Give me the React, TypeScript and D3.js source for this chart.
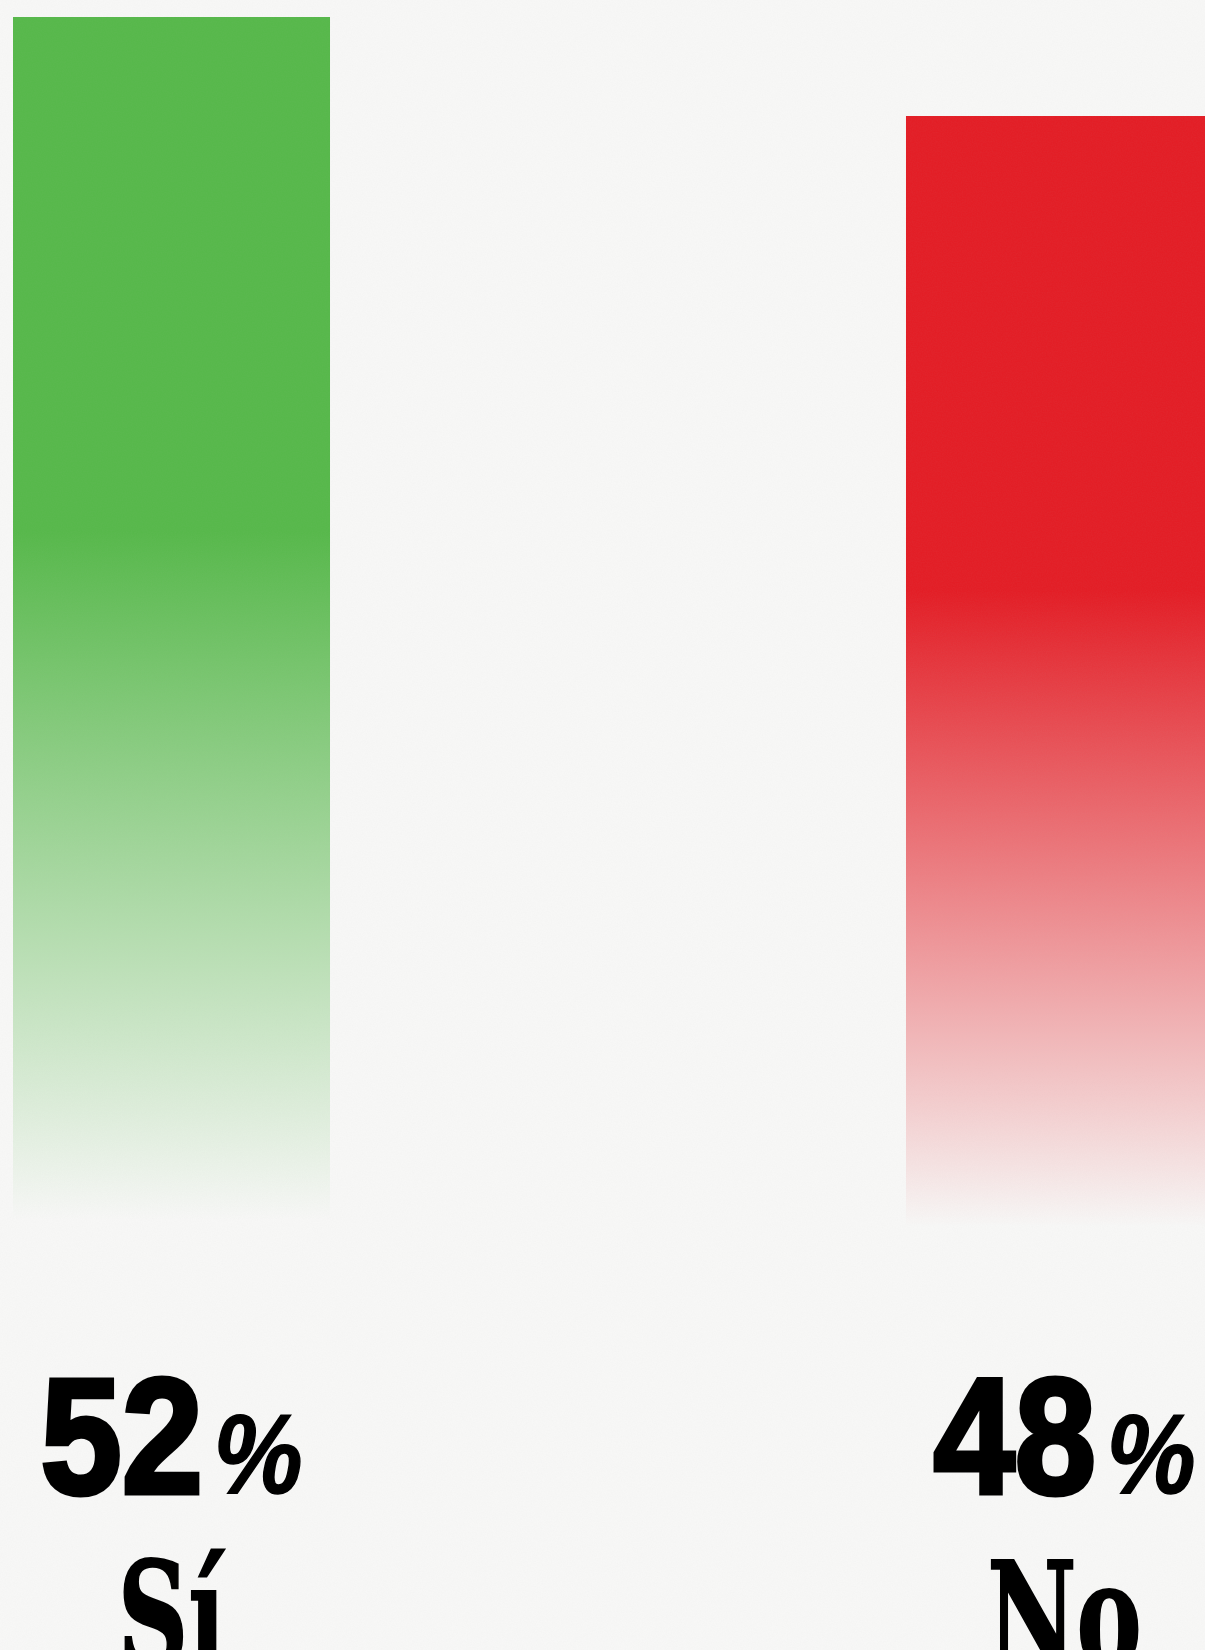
import React from "react";
import * as d3 from "d3";

const categories = ["Sí", "No"];
const values = [52, 48];
const valueLabels = ["52", "48"];
const colors = ["#57b84b", "#e31e26"];

const W = 1205;
const H = 1650;

export default function App() {
  const x = d3.scaleBand<string>().domain(categories).range([13, 1223]).paddingInner(0.645).paddingOuter(0);
  const y = d3.scaleLinear().domain([0, 52]).range([1304, 17]);

  return (
    <svg
      width={W}
      height={H}
      viewBox={`0 0 ${W} ${H}`}
      style={{ position: "absolute", left: 0, top: 0, display: "block" }}
    >
      <defs>
        {categories.map((c, i) => (
          <linearGradient key={c} id={`grad${i}`} x1="0" y1="0" x2="0" y2="1">
            <stop offset="0" stopColor={colors[i]} stopOpacity={1} />
            <stop offset="0.4" stopColor={colors[i]} stopOpacity={1} />
            <stop offset="0.935" stopColor={colors[i]} stopOpacity={0} />
            <stop offset="1" stopColor={colors[i]} stopOpacity={0} />
          </linearGradient>
        ))}
        <filter id="noise" x="0" y="0" width="100%" height="100%">
          <feTurbulence type="fractalNoise" baseFrequency="0.8" numOctaves={2} seed={3} result="t" />
          <feColorMatrix
            type="matrix"
            values="0 0 0 0 0.5  0 0 0 0 0.5  0 0 0 0 0.5  0 0 0 -1.2 0.9"
          />
        </filter>
      </defs>
      <rect x={0} y={0} width={W} height={H} fill="#f7f7f6" />
      {categories.map((c, i) => (
        <rect
          key={c}
          x={x(c)}
          y={y(values[i])}
          width={x.bandwidth()}
          height={y(0) - y(values[i])}
          fill={`url(#grad${i})`}
        />
      ))}
      <rect x={0} y={0} width={W} height={H} filter="url(#noise)" opacity={0.05} />
      {categories.map((c, i) => {
        const cx = (x(c) as number) + x.bandwidth() / 2;
        return (
          <g key={c}>
            <g transform={`translate(${cx},1493) scale(0.88,1)`}>
              <text
                x={0}
                y={0}
                textAnchor="middle"
                fill="#000"
                stroke="#000"
                strokeLinejoin="miter"
                style={{ fontFamily: "'Liberation Sans', Arial, sans-serif" }}
              >
                <tspan fontSize={166} fontWeight={700} strokeWidth={5}>{valueLabels[i]}</tspan>
                <tspan fontSize={114} fontWeight={700} fontStyle="italic" dx={12} strokeWidth={1.5}>%</tspan>
              </text>
            </g>
            <g transform={`translate(${cx},1668) scale(0.66,1)`}>
              <text
                x={0}
                y={0}
                textAnchor="middle"
                fill="#000"
                stroke="#000"
                strokeWidth={2}
                fontSize={148}
                fontWeight={700}
                style={{ fontFamily: "'DejaVu Serif', serif" }}
              >
                {c}
              </text>
            </g>
          </g>
        );
      })}
    </svg>
  );
}
